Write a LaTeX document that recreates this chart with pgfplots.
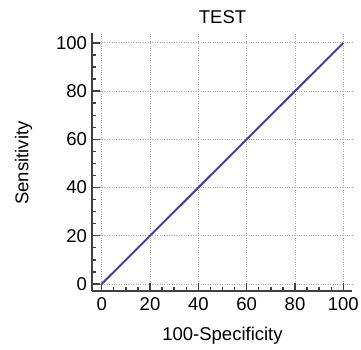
\documentclass[border=0pt]{standalone}
\usepackage{fontspec}
\setmainfont{Liberation Sans}
\usepackage{pgfplots}
\pgfplotsset{compat=1.18}
\definecolor{lineclr}{HTML}{4A40A8}
\definecolor{spineclr}{HTML}{404040}
\definecolor{gridclr}{HTML}{A8A8A8}
\begin{document}
\begin{tikzpicture}[x=1pt,y=1pt]
\path[use as bounding box] (-92.5,-58.3) rectangle (268.5,290.7);
\begin{axis}[
  at={(0,0)}, anchor=south west,
  scale only axis, width=259.8pt, height=257.7pt,
  xmin=-3.8, xmax=103.7, ymin=-2.8, ymax=104.1,
  axis lines=left,
  axis line style={-, color=spineclr, line width=2pt},
  tick align=inside,
  major tick length=8pt, minor tick length=4pt,
  every tick/.style={color=spineclr, line width=1.4pt},
  xtick={0,20,...,100}, ytick={0,20,...,100},
  minor tick num=3,
  grid=major,
  major grid style={color=gridclr, dotted, line width=0.8pt},
  /pgf/number format/assume math mode=true,
  tick label style={font=\fontsize{18.5}{21}\selectfont, color=black},
  xticklabel style={yshift=-3pt},
  yticklabel style={xshift=-2pt},
  xlabel={100-Specificity},
  ylabel={Sensitivity},
  title={TEST},
  label style={font=\fontsize{18.5}{21}\selectfont},
  title style={font=\fontsize{18.5}{21}\selectfont, at={(axis description cs:0.5004,1.0136)}, anchor=base},
  xlabel style={at={(axis description cs:0.5004,-0.194)}, anchor=base},
  ylabel style={at={(axis description cs:-0.247,0.4955)}, anchor=base},
]
\addplot[color=lineclr, line width=2pt] coordinates {(0,0) (100,100)};
\end{axis}
\end{tikzpicture}
\end{document}
